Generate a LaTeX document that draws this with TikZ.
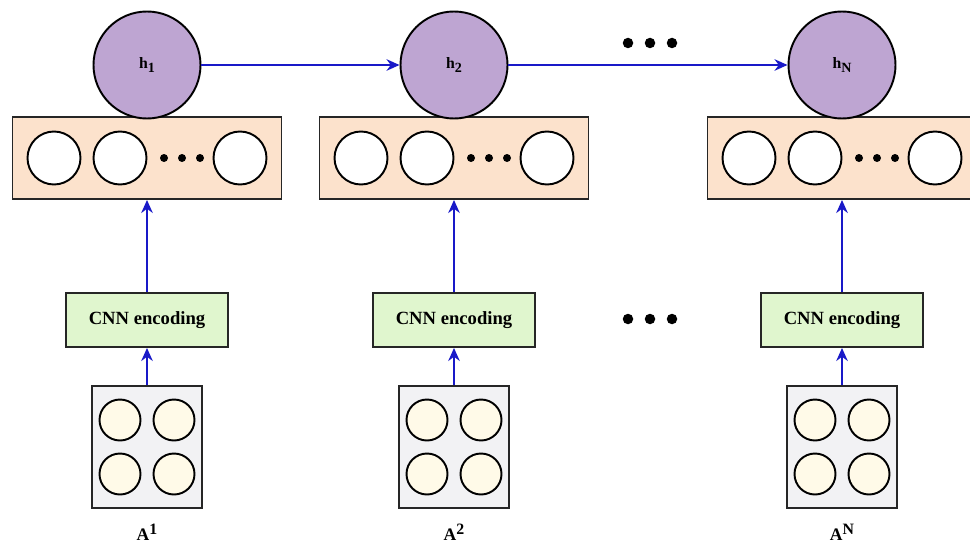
\documentclass[tikz,border=0pt]{standalone}
\usepackage{fontspec}
\setmainfont{Liberation Serif}
\usetikzlibrary{positioning,arrows.meta}
\definecolor{hidfill}{RGB}{190,165,210}
\definecolor{featfill}{RGB}{252,226,204}
\definecolor{encfill}{RGB}{224,246,206}
\definecolor{imgfill}{RGB}{242,242,244}
\definecolor{pixfill}{RGB}{255,250,232}
\definecolor{arrblue}{RGB}{25,25,200}
\newcommand{\lowidx}[1]{\raisebox{-0.45ex}{\footnotesize #1}}
\newcommand{\highidx}[1]{\raisebox{0.75ex}{\small #1}}
\tikzset{
  >={Stealth[length=2.6mm,width=2.3mm]},
  hid/.style={circle,draw=black,line width=1.1pt,fill=hidfill,minimum size=21.4mm,
    inner sep=0pt,font=\small\bfseries},
  featbox/.style={draw=black!85,line width=1.1pt,fill=featfill,minimum width=53.8mm,
    minimum height=16.4mm,inner sep=0pt},
  cell/.style={circle,draw=black,line width=1.1pt,fill=white,minimum size=10.6mm,inner sep=0pt},
  encbox/.style={draw=black!85,line width=1.1pt,fill=encfill,minimum width=32.4mm,
    minimum height=10.8mm,inner sep=0pt,font=\fontsize{10.6}{12}\selectfont\bfseries},
  imgbox/.style={draw=black!85,line width=1.1pt,fill=imgfill,minimum width=22mm,
    minimum height=24.4mm,inner sep=0pt},
  pix/.style={circle,draw=black,line width=1.1pt,fill=pixfill,minimum size=8.2mm,inner sep=0pt},
  bigdot/.style={circle,fill=black,inner sep=0pt,minimum size=2.1mm},
  smalldot/.style={circle,fill=black,inner sep=0pt,minimum size=1.6mm},
  flow/.style={->,draw=arrblue,line width=1.3pt},
  lbl/.style={font=\bfseries,inner sep=1pt},
}
\begin{document}
\begin{tikzpicture}[x=0.2mm,y=-0.2mm]
  \useasboundingbox (0,0) rectangle (970,545);
  % one column per time step
  \foreach \cx/\i/\s in {147/1/1,454/2/2,842/3/N}{
    \node[featbox] (feat\i) at (\cx,158) {};
    \node[cell] (cell\i-1) at (\cx-93,158) {};
    \node[cell] (cell\i-2) at (\cx-27,158) {};
    \node[cell] (cell\i-3) at (\cx+93,158) {};
    \foreach \dx [count=\k] in {17,35,53}
      \node[smalldot] (fdot\i-\k) at (\cx+\dx,158) {};
    \node[hid] (h\i) at (\cx,65) {h\lowidx{\s}};
    \node[encbox] (cnn\i) at (\cx,320) {CNN encoding};
    \node[imgbox] (img\i) at (\cx,447) {};
    \foreach \dx/\dy [count=\k] in {-27/-27,27/-27,-27/27,27/27}
      \node[pix] (pix\i-\k) at (\cx+\dx,447+\dy) {};
    \node[lbl] (lab\i) at (\cx,532) {A\highidx{\s}};
    \draw[flow] (img\i) -- (cnn\i);
    \draw[flow] (cnn\i) -- (feat\i);
  }
  % recurrence
  \draw[flow] (h1) -- (h2);
  \draw[flow] (h2) -- (h3);
  % ellipses between columns
  \foreach \dx [count=\k] in {628,650,672}{
    \node[bigdot] (topdot\k) at (\dx,43) {};
    \node[bigdot] (middot\k) at (\dx,319) {};
  }
\end{tikzpicture}
\end{document}
